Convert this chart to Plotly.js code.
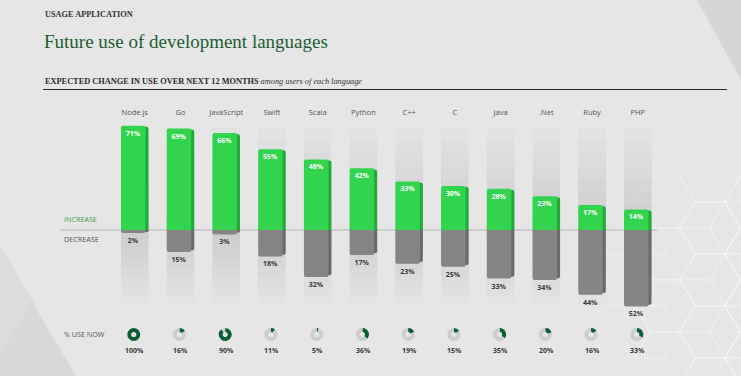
<!DOCTYPE html>
<html><head><meta charset="utf-8">
<script src="https://cdn.plot.ly/plotly-3.0.1.min.js"></script>
<style>html,body{margin:0;padding:0;background:#e6e6e6;} #chart{width:741px;height:376px;}</style>
</head><body><div id="chart"></div>
<script>
// ---- data ----
const languages = ['Node.js','Go','JavaScript','Swift','Scala','Python','C++','C','Java','.Net','Ruby','PHP'];
const increase = [71,69,66,55,48,42,33,30,28,23,17,14];
const decrease = [2,15,3,18,32,17,23,25,33,34,44,52];
const useNow = [100,16,90,11,5,36,19,15,35,20,16,33];

// ---- geometry ----
const W = 741, H = 376;
const X0 = 134.75, STEP = 45.73;
const PPU = 1.47, ZERO_Y = 230, TOP_Y = 120, BOT_Y = 315;
const px = x => x / W, py = y => 1 - y / H;
const unit = 1 / STEP;
const faceW = 24.5 * unit, faceOff = -13.75 * unit, shOff = -10.75 * unit;
const idx = languages.map((_, i) => i);

const traces = [];
traces.push({type:'bar', x:idx, y:increase.map(v => v - 0.8), width:faceW, offset:shOff,
  marker:{color:'#22a937', cornerradius:2}, hoverinfo:'skip', showlegend:false});
traces.push({type:'bar', x:idx, y:decrease.map(v => -(v - 1.2)), width:faceW, offset:shOff,
  marker:{color:'#6a6a6a', cornerradius:2}, hoverinfo:'skip', showlegend:false});
traces.push({type:'bar', name:'Increase', x:idx, y:increase, width:faceW, offset:faceOff,
  marker:{color:'#31d44c', cornerradius:2},
  text:increase.map(v => v + '%'), textposition:'inside', insidetextanchor:'end', constraintext:'none',
  textfont:{family:'Open Sans', size:7, color:'#ffffff', weight:700}, showlegend:false});
traces.push({type:'bar', name:'Decrease', x:idx, y:decrease.map(v => -v), width:faceW, offset:faceOff,
  marker:{color:'#858585', cornerradius:2},
  text:decrease.map(v => v + '%'), textposition:'outside', constraintext:'none', cliponaxis:false,
  textfont:{family:'Open Sans', size:7, color:'#3a3a3a', weight:700}, showlegend:false});

// donuts
useNow.forEach((v, i) => {
  const cx = X0 + STEP * i - 1, cy = 334.5, r = 6.5;
  traces.push({type:'pie', values:[v, 100 - v], labels:['Use now','Other'], sort:false,
    direction:'clockwise', rotation:0, hole:0.4, textinfo:'none',
    marker:{colors:['#0b5e33','#cdcdcd']}, hoverinfo:'label+percent', showlegend:false,
    domain:{x:[px(cx - r), px(cx + r)], y:[py(cy + r), py(cy - r)]}});
});

// ---- shapes ----
const shapes = [];
const poly = (pts, color) => ({type:'path', xref:'paper', yref:'paper', layer:'below',
  path:'M' + pts.map(p => px(p[0]) + ',' + py(p[1])).join('L') + 'Z', fillcolor:color, line:{width:0}});
shapes.push(poly([[697,0],[741,0],[741,80]], '#d6d6d6'));
shapes.push(poly([[0,245],[35,305],[0,365]], '#dcdcdc'));
shapes.push(poly([[32,302],[76,376],[-12,376]], '#d8d8d8'));
// hex/cube pattern on right
const s = 30, hh = Math.sqrt(3) * s;
for (let c = 0; c < 9; c++) {
  const cx = 575 + c * 1.5 * s;
  for (let r = 0; r < 9; r++) {
    const cy = 150 + r * hh + (c % 2 ? hh / 2 : 0);
    const v = [];
    for (let k = 0; k < 6; k++) v.push([cx + s * Math.cos(Math.PI / 3 * k), cy + s * Math.sin(Math.PI / 3 * k)]);
    let d = 'M' + v.map(p => px(p[0]) + ',' + py(p[1])).join('L') + 'Z';
    [1, 3, 5].forEach(k => { d += 'M' + px(cx) + ',' + py(cy) + 'L' + px(v[k][0]) + ',' + py(v[k][1]); });
    const a = Math.max(0, Math.min(0.6, (cx - 560) / 140 * 0.6)) * Math.min(1, (cy - 140) / 80);
    shapes.push({type:'path', xref:'paper', yref:'paper', layer:'below', path:d,
      line:{color:'rgba(255,255,255,' + a.toFixed(3) + ')', width:0.8}});
  }
}
// gradient background columns
const NL = 8, upTop = (ZERO_Y - 128) / PPU, dnBot = (305 - ZERO_Y) / PPU;
idx.forEach(i => {
  for (let k = 1; k <= NL; k++) {
    shapes.push({type:'rect', xref:'x', yref:'y', layer:'below', x0:i + faceOff, x1:i + faceOff + 27.5 * unit,
      y0:0, y1:upTop * k / NL, fillcolor:'rgba(150,150,150,0.035)', line:{width:0}});
    shapes.push({type:'rect', xref:'x', yref:'y', layer:'below', x0:i + faceOff, x1:i + faceOff + 27.5 * unit,
      y0:0, y1:-dnBot * k / NL, fillcolor:'rgba(150,150,150,0.04)', line:{width:0}});
  }
});
shapes.push({type:'line', xref:'paper', yref:'y', layer:'below', x0:px(60), x1:px(657), y0:0, y1:0,
  line:{color:'#b2b2b2', width:1}});
shapes.push({type:'line', xref:'paper', yref:'paper', x0:px(43), x1:px(727), y0:py(89.5), y1:py(89.5),
  line:{color:'#2a2a2a', width:1.2}});

// ---- annotations ----
const ann = (x, y, text, font, extra) => Object.assign({xref:'paper', yref:'paper', x:px(x), y:py(y),
  xanchor:'left', yanchor:'middle', text:text, showarrow:false, font:font}, extra || {});
const annotations = [
  ann(43, 15, '<b>USAGE APPLICATION</b>', {family:'Liberation Serif', size:8.3, color:'#333'}),
  ann(42, 41.5, 'Future use of development languages', {family:'Liberation Serif', size:19, color:'#1d5c33'}),
  ann(43, 81, '<b>EXPECTED CHANGE IN USE OVER NEXT 12 MONTHS</b> <i><span style="color:#333">among users of each language</span></i>',
      {family:'Liberation Serif', size:8.3, color:'#2a2a2a'}),
  ann(62, 219, 'INCREASE', {family:'Open Sans', size:7.2, color:'#3f9d52'}),
  ann(62, 239, 'DECREASE', {family:'Open Sans', size:7.2, color:'#555'}),
  ann(62, 334, '% USE NOW', {family:'Open Sans', size:7.2, color:'#555'})
];
useNow.forEach((v, i) => annotations.push({xref:'x', yref:'paper', x:i, y:py(350),
  xanchor:'center', yanchor:'middle', text:v + '%', showarrow:false,
  font:{family:'Open Sans', size:7, color:'#3a3a3a', weight:700}}));

const layout = {
  width:W, height:H, margin:{l:0, r:0, t:0, b:0},
  paper_bgcolor:'#e6e6e6', plot_bgcolor:'rgba(0,0,0,0)',
  barmode:'overlay', showlegend:false,
  xaxis:{range:[-X0 / STEP, (W - X0) / STEP], domain:[0, 1], side:'top', tickmode:'array',
    tickvals:idx, ticktext:languages, showgrid:false, zeroline:false, showline:false, ticks:'',
    ticklabelstandoff:3,
    tickfont:{family:'Open Sans', size:7.5, color:'#555'}, fixedrange:true},
  yaxis:{domain:[py(BOT_Y), py(TOP_Y)], range:[-(BOT_Y - ZERO_Y) / PPU, (ZERO_Y - TOP_Y) / PPU],
    visible:false, fixedrange:true},
  shapes:shapes, annotations:annotations
};
Plotly.newPlot('chart', traces, layout, {displayModeBar:false});
</script></body></html>
